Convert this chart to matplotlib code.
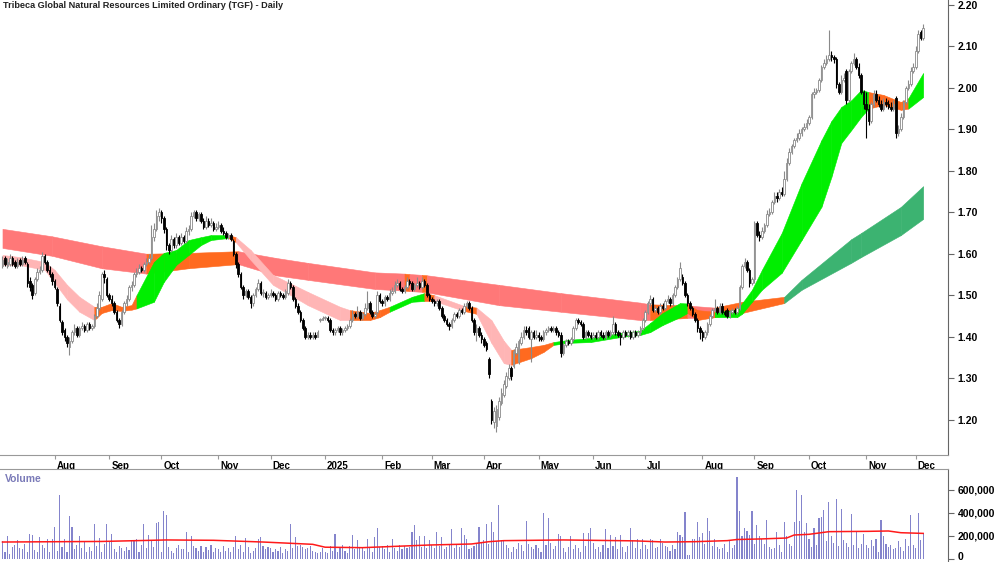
import numpy as np
import pandas as pd
import matplotlib
matplotlib.use('Agg')
import matplotlib.pyplot as plt
import matplotlib.transforms as mtransforms
from matplotlib.ticker import FuncFormatter

plt.rcParams['font.family'] = ['Liberation Sans', 'DejaVu Sans']

title = 'Tribeca Global Natural Resources Limited Ordinary (TGF) - Daily'
first_day = '2024-07-03'

# daily candles, one row per month (Jul 2024 .. Dec 2025)
opens = [
    1.570, 1.590, 1.570, 1.575, 1.590, 1.580, 1.570, 1.585, 1.575, 1.590, 1.575, 1.535, 1.525, 1.505, 1.540, 1.555, 1.560, 1.595, 1.580, 1.560, 1.550,
    1.535, 1.515, 1.475, 1.435, 1.415, 1.400, 1.375, 1.390, 1.410, 1.420, 1.405, 1.420, 1.425, 1.415, 1.430, 1.420, 1.425, 1.450, 1.470, 1.490, 1.550, 1.540,
    1.500, 1.490, 1.480, 1.460, 1.440, 1.430, 1.460, 1.480, 1.490, 1.520, 1.525, 1.550, 1.555, 1.565, 1.560, 1.575, 1.580, 1.590, 1.640, 1.660, 1.690,
    1.700, 1.685, 1.660, 1.620, 1.610, 1.635, 1.620, 1.640, 1.625, 1.640, 1.630, 1.655, 1.660, 1.690, 1.700, 1.685, 1.695, 1.680, 1.665, 1.680, 1.670, 1.675, 1.660,
    1.665, 1.670, 1.655, 1.650, 1.640, 1.645, 1.630, 1.600, 1.575, 1.550, 1.520, 1.500, 1.510, 1.495, 1.480, 1.500, 1.515, 1.530, 1.505, 1.505, 1.495,
    1.500, 1.505, 1.500, 1.490, 1.505, 1.500, 1.495, 1.505, 1.530, 1.520, 1.490, 1.475, 1.460, 1.440, 1.420, 1.400, 1.405, 1.400, 1.405, 1.400, 1.440, 1.440,
    1.445, 1.445, 1.440, 1.415, 1.410, 1.415, 1.420, 1.410, 1.415, 1.420, 1.425, 1.440, 1.455, 1.450, 1.460, 1.445, 1.455, 1.470, 1.480, 1.460, 1.450, 1.460, 1.500,
    1.485, 1.480, 1.495, 1.490, 1.505, 1.510, 1.525, 1.530, 1.515, 1.510, 1.520, 1.535, 1.530, 1.515, 1.525, 1.530, 1.520, 1.535, 1.525, 1.500,
    1.490, 1.485, 1.480, 1.485, 1.470, 1.450, 1.440, 1.430, 1.425, 1.440, 1.455, 1.450, 1.465, 1.460, 1.475, 1.480, 1.470, 1.440, 1.410, 1.420, 1.405,
    1.395, 1.385, 1.345, 1.245, 1.195, 1.185, 1.205, 1.240, 1.260, 1.280, 1.300, 1.325, 1.330, 1.360, 1.340, 1.385, 1.400, 1.415, 1.420, 1.395, 1.410, 1.400,
    1.405, 1.400, 1.395, 1.410, 1.415, 1.420, 1.415, 1.420, 1.410, 1.405, 1.360, 1.380, 1.390, 1.385, 1.395, 1.420, 1.440, 1.435, 1.430, 1.400, 1.410, 1.405,
    1.400, 1.405, 1.400, 1.410, 1.405, 1.400, 1.410, 1.405, 1.410, 1.430, 1.410, 1.405, 1.400, 1.410, 1.405, 1.410, 1.400, 1.410, 1.405, 1.410, 1.420,
    1.440, 1.460, 1.480, 1.490, 1.465, 1.470, 1.460, 1.475, 1.470, 1.485, 1.490, 1.480, 1.500, 1.520, 1.540, 1.545, 1.530, 1.500, 1.480, 1.470, 1.455, 1.440, 1.420,
    1.410, 1.400, 1.410, 1.430, 1.450, 1.465, 1.470, 1.460, 1.475, 1.460, 1.465, 1.450, 1.460, 1.465, 1.460, 1.470, 1.520, 1.570, 1.580, 1.560, 1.530,
    1.540, 1.675, 1.645, 1.640, 1.655, 1.670, 1.695, 1.700, 1.725, 1.740, 1.735, 1.750, 1.745, 1.780, 1.820, 1.845, 1.860, 1.875, 1.880, 1.890, 1.900, 1.905,
    1.915, 1.930, 1.985, 1.990, 1.995, 2.020, 2.050, 2.060, 2.070, 2.080, 2.075, 2.070, 2.010, 1.990, 2.020, 2.040, 1.970, 2.040, 2.060, 2.070, 2.050, 2.030, 1.990,
    1.960, 1.950, 1.920, 1.960, 1.985, 1.970, 1.960, 1.950, 1.965, 1.960, 1.955, 1.950, 1.975, 1.890, 1.900, 1.930, 1.965, 2.000, 2.010, 2.040,
    2.050, 2.090, 2.135, 2.120,
]
highs = [
    1.595, 1.595, 1.590, 1.600, 1.595, 1.585, 1.590, 1.590, 1.595, 1.595, 1.580, 1.545, 1.530, 1.545, 1.565, 1.570, 1.605, 1.600, 1.585, 1.570, 1.555,
    1.540, 1.520, 1.480, 1.440, 1.420, 1.405, 1.400, 1.415, 1.430, 1.425, 1.425, 1.435, 1.430, 1.435, 1.435, 1.430, 1.455, 1.480, 1.510, 1.555, 1.560, 1.545,
    1.505, 1.500, 1.485, 1.465, 1.445, 1.465, 1.485, 1.500, 1.525, 1.535, 1.555, 1.565, 1.575, 1.570, 1.580, 1.590, 1.600, 1.670, 1.675, 1.705, 1.710,
    1.705, 1.690, 1.665, 1.625, 1.645, 1.640, 1.650, 1.645, 1.650, 1.645, 1.665, 1.670, 1.700, 1.705, 1.705, 1.700, 1.700, 1.685, 1.690, 1.685, 1.685, 1.680, 1.675,
    1.680, 1.675, 1.665, 1.655, 1.650, 1.650, 1.635, 1.605, 1.580, 1.555, 1.525, 1.515, 1.515, 1.500, 1.505, 1.520, 1.540, 1.535, 1.515, 1.510, 1.505,
    1.515, 1.510, 1.505, 1.510, 1.510, 1.505, 1.515, 1.540, 1.535, 1.525, 1.495, 1.480, 1.465, 1.445, 1.425, 1.410, 1.410, 1.410, 1.410, 1.415, 1.445, 1.450,
    1.450, 1.450, 1.445, 1.420, 1.420, 1.425, 1.425, 1.420, 1.425, 1.430, 1.445, 1.465, 1.460, 1.475, 1.465, 1.460, 1.480, 1.510, 1.485, 1.465, 1.460, 1.510, 1.505,
    1.490, 1.500, 1.500, 1.515, 1.520, 1.535, 1.540, 1.535, 1.520, 1.525, 1.545, 1.540, 1.535, 1.530, 1.545, 1.535, 1.545, 1.540, 1.530, 1.505,
    1.495, 1.490, 1.490, 1.490, 1.475, 1.455, 1.445, 1.435, 1.445, 1.460, 1.460, 1.470, 1.470, 1.480, 1.485, 1.485, 1.475, 1.445, 1.430, 1.425, 1.410,
    1.400, 1.390, 1.350, 1.250, 1.230, 1.235, 1.255, 1.275, 1.295, 1.315, 1.335, 1.330, 1.370, 1.385, 1.395, 1.410, 1.425, 1.425, 1.425, 1.415, 1.415, 1.415,
    1.410, 1.405, 1.415, 1.420, 1.425, 1.425, 1.425, 1.425, 1.415, 1.410, 1.385, 1.395, 1.395, 1.400, 1.425, 1.445, 1.445, 1.440, 1.435, 1.415, 1.415, 1.410,
    1.410, 1.410, 1.415, 1.415, 1.410, 1.415, 1.415, 1.415, 1.450, 1.435, 1.415, 1.410, 1.415, 1.415, 1.415, 1.415, 1.415, 1.415, 1.415, 1.425, 1.445,
    1.465, 1.485, 1.500, 1.495, 1.475, 1.475, 1.480, 1.480, 1.490, 1.500, 1.495, 1.505, 1.525, 1.545, 1.580, 1.550, 1.535, 1.505, 1.485, 1.475, 1.460, 1.445, 1.425,
    1.415, 1.415, 1.435, 1.455, 1.470, 1.490, 1.475, 1.480, 1.480, 1.465, 1.470, 1.465, 1.470, 1.470, 1.475, 1.525, 1.575, 1.590, 1.585, 1.565, 1.545,
    1.680, 1.680, 1.655, 1.665, 1.675, 1.705, 1.710, 1.730, 1.750, 1.750, 1.755, 1.760, 1.800, 1.830, 1.855, 1.865, 1.880, 1.890, 1.900, 1.905, 1.915, 1.925,
    1.935, 1.990, 2.000, 2.000, 2.025, 2.055, 2.070, 2.080, 2.140, 2.090, 2.080, 2.075, 2.015, 2.030, 2.035, 2.045, 2.045, 2.065, 2.085, 2.075, 2.060, 2.035, 1.995,
    1.990, 1.960, 1.965, 1.995, 1.995, 1.980, 1.970, 1.975, 1.975, 1.970, 1.965, 1.970, 1.980, 1.910, 1.940, 1.970, 2.005, 2.020, 2.050, 2.060,
    2.100, 2.140, 2.140, 2.155,
]
lows = [
    1.565, 1.570, 1.565, 1.570, 1.570, 1.565, 1.565, 1.570, 1.570, 1.575, 1.520, 1.510, 1.490, 1.500, 1.535, 1.550, 1.555, 1.575, 1.555, 1.545, 1.525,
    1.515, 1.475, 1.435, 1.405, 1.390, 1.375, 1.355, 1.385, 1.405, 1.400, 1.400, 1.415, 1.410, 1.410, 1.415, 1.415, 1.420, 1.445, 1.465, 1.485, 1.530, 1.495,
    1.485, 1.475, 1.455, 1.435, 1.420, 1.425, 1.455, 1.475, 1.485, 1.510, 1.520, 1.545, 1.550, 1.555, 1.555, 1.570, 1.575, 1.585, 1.630, 1.655, 1.680,
    1.675, 1.650, 1.610, 1.600, 1.605, 1.615, 1.615, 1.620, 1.620, 1.625, 1.625, 1.645, 1.655, 1.685, 1.680, 1.680, 1.675, 1.660, 1.660, 1.665, 1.665, 1.655, 1.655,
    1.660, 1.650, 1.645, 1.635, 1.635, 1.630, 1.595, 1.565, 1.545, 1.515, 1.490, 1.495, 1.490, 1.470, 1.475, 1.495, 1.510, 1.500, 1.495, 1.490, 1.490,
    1.495, 1.495, 1.485, 1.485, 1.495, 1.490, 1.490, 1.500, 1.515, 1.485, 1.470, 1.455, 1.435, 1.415, 1.395, 1.395, 1.395, 1.395, 1.395, 1.400, 1.435, 1.440,
    1.440, 1.435, 1.410, 1.405, 1.405, 1.410, 1.405, 1.405, 1.410, 1.415, 1.420, 1.435, 1.445, 1.445, 1.440, 1.440, 1.450, 1.465, 1.455, 1.445, 1.445, 1.455, 1.480,
    1.475, 1.475, 1.485, 1.485, 1.500, 1.505, 1.520, 1.510, 1.505, 1.505, 1.515, 1.525, 1.510, 1.510, 1.520, 1.515, 1.515, 1.520, 1.495, 1.485,
    1.480, 1.475, 1.475, 1.465, 1.445, 1.435, 1.425, 1.415, 1.420, 1.435, 1.445, 1.445, 1.455, 1.455, 1.470, 1.465, 1.435, 1.405, 1.390, 1.400, 1.385,
    1.375, 1.365, 1.300, 1.190, 1.180, 1.170, 1.200, 1.235, 1.255, 1.275, 1.295, 1.295, 1.325, 1.355, 1.335, 1.380, 1.395, 1.405, 1.395, 1.340, 1.395, 1.395,
    1.390, 1.390, 1.390, 1.405, 1.410, 1.410, 1.410, 1.405, 1.400, 1.350, 1.355, 1.375, 1.380, 1.380, 1.390, 1.415, 1.430, 1.425, 1.395, 1.395, 1.400, 1.395,
    1.395, 1.395, 1.395, 1.400, 1.395, 1.395, 1.400, 1.400, 1.405, 1.405, 1.400, 1.380, 1.395, 1.400, 1.400, 1.395, 1.395, 1.400, 1.400, 1.405, 1.415,
    1.435, 1.455, 1.475, 1.460, 1.460, 1.455, 1.455, 1.465, 1.465, 1.480, 1.475, 1.475, 1.495, 1.515, 1.535, 1.525, 1.495, 1.475, 1.465, 1.450, 1.435, 1.410, 1.395,
    1.390, 1.395, 1.405, 1.425, 1.445, 1.460, 1.455, 1.455, 1.455, 1.450, 1.445, 1.445, 1.455, 1.455, 1.455, 1.465, 1.515, 1.565, 1.555, 1.520, 1.525,
    1.530, 1.640, 1.630, 1.635, 1.650, 1.665, 1.690, 1.695, 1.720, 1.725, 1.730, 1.740, 1.740, 1.775, 1.815, 1.840, 1.855, 1.870, 1.875, 1.885, 1.895, 1.900,
    1.910, 1.925, 1.975, 1.985, 1.990, 2.015, 2.045, 2.055, 2.065, 2.065, 2.060, 2.000, 1.985, 1.985, 2.015, 1.960, 1.965, 2.035, 2.055, 2.045, 2.025, 1.985, 1.950,
    1.880, 1.910, 1.915, 1.955, 1.965, 1.955, 1.945, 1.945, 1.955, 1.950, 1.945, 1.945, 1.880, 1.885, 1.895, 1.925, 1.960, 1.995, 2.005, 2.035,
    2.045, 2.085, 2.115, 2.115,
]
closes = [
    1.585, 1.575, 1.580, 1.590, 1.575, 1.570, 1.580, 1.575, 1.585, 1.580, 1.530, 1.520, 1.500, 1.540, 1.555, 1.560, 1.595, 1.580, 1.560, 1.550, 1.535,
    1.520, 1.480, 1.440, 1.410, 1.400, 1.385, 1.390, 1.410, 1.420, 1.405, 1.420, 1.425, 1.415, 1.430, 1.420, 1.425, 1.450, 1.470, 1.500, 1.550, 1.545, 1.500,
    1.490, 1.480, 1.460, 1.440, 1.430, 1.460, 1.480, 1.490, 1.520, 1.525, 1.550, 1.555, 1.565, 1.560, 1.575, 1.580, 1.590, 1.640, 1.660, 1.690, 1.700,
    1.685, 1.660, 1.620, 1.610, 1.635, 1.620, 1.640, 1.625, 1.640, 1.630, 1.655, 1.660, 1.690, 1.700, 1.685, 1.695, 1.680, 1.665, 1.680, 1.670, 1.675, 1.660, 1.665,
    1.670, 1.655, 1.650, 1.640, 1.645, 1.635, 1.600, 1.575, 1.550, 1.520, 1.500, 1.510, 1.495, 1.480, 1.500, 1.515, 1.530, 1.505, 1.505, 1.495, 1.500,
    1.505, 1.500, 1.490, 1.505, 1.500, 1.495, 1.510, 1.530, 1.520, 1.490, 1.475, 1.460, 1.440, 1.420, 1.400, 1.405, 1.400, 1.405, 1.400, 1.410, 1.440, 1.445,
    1.445, 1.440, 1.415, 1.410, 1.415, 1.420, 1.410, 1.415, 1.420, 1.425, 1.440, 1.455, 1.450, 1.460, 1.445, 1.455, 1.470, 1.480, 1.460, 1.450, 1.455, 1.500, 1.485,
    1.480, 1.495, 1.490, 1.505, 1.510, 1.525, 1.530, 1.515, 1.510, 1.520, 1.535, 1.530, 1.515, 1.525, 1.530, 1.520, 1.535, 1.525, 1.500, 1.490,
    1.485, 1.480, 1.485, 1.470, 1.450, 1.440, 1.430, 1.425, 1.440, 1.455, 1.450, 1.465, 1.460, 1.475, 1.480, 1.470, 1.440, 1.410, 1.420, 1.405, 1.395,
    1.380, 1.370, 1.310, 1.200, 1.220, 1.225, 1.245, 1.265, 1.285, 1.305, 1.325, 1.305, 1.365, 1.375, 1.390, 1.400, 1.415, 1.410, 1.400, 1.410, 1.400, 1.405,
    1.400, 1.395, 1.410, 1.415, 1.420, 1.415, 1.420, 1.410, 1.405, 1.360, 1.380, 1.390, 1.385, 1.395, 1.420, 1.440, 1.435, 1.430, 1.400, 1.410, 1.405, 1.400,
    1.405, 1.400, 1.410, 1.405, 1.400, 1.410, 1.405, 1.410, 1.430, 1.410, 1.405, 1.400, 1.410, 1.405, 1.410, 1.400, 1.410, 1.405, 1.410, 1.420, 1.440,
    1.460, 1.480, 1.490, 1.465, 1.470, 1.460, 1.475, 1.470, 1.485, 1.490, 1.480, 1.500, 1.520, 1.540, 1.565, 1.530, 1.500, 1.480, 1.470, 1.455, 1.440, 1.420, 1.410,
    1.400, 1.410, 1.430, 1.450, 1.465, 1.470, 1.460, 1.475, 1.460, 1.455, 1.450, 1.460, 1.465, 1.460, 1.470, 1.520, 1.570, 1.580, 1.560, 1.530, 1.540,
    1.675, 1.645, 1.640, 1.655, 1.670, 1.695, 1.700, 1.725, 1.740, 1.735, 1.750, 1.745, 1.780, 1.820, 1.845, 1.860, 1.875, 1.880, 1.890, 1.900, 1.905, 1.915,
    1.930, 1.985, 1.990, 1.995, 2.020, 2.050, 2.060, 2.070, 2.080, 2.075, 2.070, 2.010, 1.990, 2.020, 2.025, 1.970, 2.040, 2.060, 2.070, 2.050, 2.030, 1.990, 1.960,
    1.950, 1.920, 1.960, 1.985, 1.970, 1.960, 1.950, 1.965, 1.960, 1.955, 1.950, 1.960, 1.890, 1.900, 1.930, 1.965, 2.000, 2.010, 2.040, 2.050,
    2.090, 2.130, 2.120, 2.145,
]
# volume in thousands of shares
volume_k = [
    150, 60, 195, 40, 105, 120, 165, 90, 85, 130, 60, 215, 210, 75, 60, 185, 120, 90, 175, 60, 175,
    278, 70, 554, 100, 170, 60, 374, 278, 80, 120, 200, 90, 150, 60, 100, 70, 301, 110, 180, 60, 130, 301,
    150, 217, 80, 60, 110, 90, 65, 100, 75, 160, 150, 175, 60, 120, 299, 90, 204, 150, 100, 307, 322,
    60, 417, 380, 100, 70, 50, 90, 120, 80, 80, 229, 60, 200, 110, 90, 70, 110, 60, 100, 75, 120, 60, 90,
    80, 60, 110, 70, 90, 60, 100, 194, 80, 120, 60, 180, 100, 50, 70, 90, 170, 188, 110, 80, 100,
    90, 60, 80, 70, 100, 50, 80, 70, 299, 90, 188, 110, 120, 100, 80, 90, 110, 70, 60, 50, 55, 90,
    60, 50, 110, 70, 215, 60, 90, 120, 70, 50, 110, 206, 80, 163, 90, 100, 70, 175, 90, 60, 188, 265, 100,
    110, 80, 120, 60, 175, 90, 70, 120, 80, 110, 90, 100, 234, 292, 160, 197, 100, 197, 90, 163,
    120, 90, 234, 110, 188, 80, 100, 130, 255, 90, 120, 100, 269, 210, 170, 80, 90, 110, 130, 272, 140,
    160, 301, 130, 316, 230, 150, 467, 160, 150, 120, 90, 60, 100, 80, 140, 120, 70, 327, 130, 100, 80, 120,
    90, 60, 395, 120, 355, 140, 80, 110, 217, 200, 90, 60, 100, 197, 80, 120, 90, 60, 226, 110, 226, 269,
    140, 80, 100, 60, 120, 258, 90, 204, 110, 193, 80, 207, 100, 60, 110, 263, 160, 90, 170, 80, 175,
    120, 80, 170, 160, 90, 100, 170, 140, 110, 100, 70, 120, 80, 234, 210, 190, 406, 30, 30, 170, 170, 316, 190,
    220, 130, 352, 240, 110, 170, 100, 80, 90, 130, 60, 165, 90, 120, 713, 411, 200, 263, 240, 210, 411,
    130, 292, 200, 170, 130, 336, 100, 80, 90, 234, 120, 60, 322, 200, 130, 110, 322, 598, 330, 556, 229, 307,
    170, 100, 263, 120, 350, 365, 424, 150, 496, 200, 140, 516, 110, 430, 160, 140, 100, 386, 120, 229, 90, 130, 217,
    120, 90, 160, 110, 170, 60, 336, 200, 130, 100, 120, 80, 90, 150, 100, 70, 170, 110, 380, 120,
    90, 394, 160, 220,
]
# volume average line, read at a few bars
vavg_idx = [0, 40, 66, 85, 105, 125, 130, 145, 172, 189, 196, 202, 226, 255, 267, 279, 292, 296, 306, 316, 319, 325, 333, 349, 357, 362, 371]
vavg_k = [145, 150, 163, 160, 145, 125, 100, 96, 119, 128, 148, 157, 163, 155, 145, 148, 157, 167, 172, 180, 206, 212, 235, 238, 241, 226, 220]

# short-term ribbon edges (bar index, upper, lower) and colour of the stretch that follows
short_idx = [0, 7, 17, 21, 26, 31, 37, 40, 44, 48, 52, 54, 61, 65, 70, 75, 80, 84, 91, 94,
             100, 109, 123, 136, 140, 148, 152, 156, 165, 170, 174, 186, 191, 197, 202, 205, 213, 218, 222, 228,
             237, 250, 257, 261, 266, 273, 276, 280, 287, 296, 298, 302, 306, 314, 322, 330, 334, 338, 342, 346,
             349, 355, 362, 365, 371]
short_hi = [1.597, 1.592, 1.580, 1.561, 1.525, 1.496, 1.472, 1.472, 1.481, 1.472, 1.476, 1.500, 1.580, 1.602, 1.609, 1.633, 1.640, 1.645, 1.645, 1.640,
            1.609, 1.549, 1.508, 1.472, 1.464, 1.457, 1.464, 1.472, 1.496, 1.505, 1.500, 1.474, 1.470, 1.440, 1.390, 1.368, 1.375, 1.380, 1.387, 1.392,
            1.397, 1.410, 1.414, 1.433, 1.457, 1.481, 1.480, 1.464, 1.460, 1.464, 1.480, 1.513, 1.561, 1.650, 1.770, 1.874, 1.920, 1.954, 1.970, 1.995,
            1.990, 1.983, 1.966, 1.975, 2.036]
short_lo = [1.573, 1.573, 1.561, 1.530, 1.490, 1.460, 1.440, 1.457, 1.464, 1.462, 1.465, 1.468, 1.484, 1.532, 1.573, 1.597, 1.621, 1.633, 1.638, 1.628,
            1.585, 1.525, 1.476, 1.440, 1.440, 1.440, 1.447, 1.460, 1.484, 1.486, 1.486, 1.462, 1.455, 1.385, 1.336, 1.332, 1.348, 1.363, 1.380, 1.385,
            1.387, 1.400, 1.404, 1.411, 1.428, 1.447, 1.457, 1.440, 1.447, 1.447, 1.455, 1.484, 1.513, 1.554, 1.633, 1.713, 1.785, 1.867, 1.898, 1.930,
            1.950, 1.959, 1.947, 1.950, 1.978]
short_col = 'ppppppoooo' 'oggggggg' 'op' 'ppppooogg' 'o' 'popppooogg' 'ggggggoogg' 'gggggggggg' 'ooogg'

# long-term ribbon
long_idx = [0, 20, 40, 58, 75, 95, 110, 123, 150, 162, 164, 169, 171, 200, 225, 257, 261, 276, 287, 298, 315, 322, 342, 346, 362, 371]
long_hi = [1.660, 1.642, 1.618, 1.600, 1.602, 1.606, 1.590, 1.578, 1.555, 1.552, 1.551, 1.549, 1.548, 1.525, 1.505, 1.482, 1.478, 1.475, 1.470, 1.484,
           1.496, 1.537, 1.635, 1.650, 1.713, 1.763]
long_lo = [1.614, 1.595, 1.565, 1.552, 1.565, 1.575, 1.548, 1.537, 1.515, 1.511, 1.510, 1.508, 1.507, 1.476, 1.460, 1.440, 1.440, 1.445, 1.447, 1.457,
           1.481, 1.513, 1.578, 1.592, 1.645, 1.684]
long_col = 'rrroorrrro' 'rorrrroroo' 'dddddd'

colours = {'p': '#ffb5b5', 'g': '#00ee00', 'o': '#ff6a1f', 'r': '#ff7878', 'd': '#3cb371'}

o = np.array(opens)
h = np.array(highs)
l = np.array(lows)
c = np.array(closes)
n = len(c)
x = np.arange(n)
dates = pd.bdate_range(first_day, periods=n)

fig = plt.figure(figsize=(10, 5.62), dpi=100)
ax = fig.add_axes([0, 1 - 455 / 562, 0.948, 455 / 562])
axv = fig.add_axes([0, 0, 0.948, 93 / 562])


def draw_ribbon(axis, idx, hi, lo, col):
    for k in range(len(idx) - 1):
        fc = colours[col[k]]
        axis.fill_between(idx[k:k + 2], hi[k:k + 2], lo[k:k + 2], color=fc, ec=fc, lw=0.4, zorder=2)


draw_ribbon(ax, long_idx, long_hi, long_lo, long_col)
draw_ribbon(ax, short_idx, short_hi, short_lo, short_col)

# candles
up = c >= o
body_lo = np.minimum(o, c)
body_h = np.maximum(np.abs(c - o), 0.002)
ax.vlines(x[up], l[up], h[up], color='#8a8a8a', lw=0.8, zorder=3)
ax.vlines(x[~up], l[~up], h[~up], color='black', lw=0.8, zorder=3)
ax.bar(x[up], body_h[up], bottom=body_lo[up], width=0.62, color='white', edgecolor='#8a8a8a', lw=0.6, zorder=4)
ax.bar(x[~up], body_h[~up], bottom=body_lo[~up], width=0.62, color='black', edgecolor='black', lw=0.6, zorder=4)

ax.set_xlim(-1, 381)
ax.set_ylim(1.1145, 2.212)
ax.yaxis.tick_right()
ax.set_yticks(np.arange(1.2, 2.21, 0.1))
ax.yaxis.set_major_formatter(FuncFormatter(lambda v, p: f'{v:.2f}'))
for side in ['left', 'top']:
    ax.spines[side].set_visible(False)
ax.spines['right'].set_color('#666666')
ax.spines['bottom'].set_color('#999999')
ax.tick_params(axis='y', length=4, color='#666666', pad=3, labelsize=7.5)
for lab in ax.get_yticklabels():
    lab.set_fontweight('bold')

# month ticks
month_pos = [i for i in range(1, n) if dates[i].month != dates[i - 1].month]
month_lab = [str(dates[i].year) if dates[i].month == 1 else dates[i].strftime('%b') for i in month_pos]
ax.set_xticks(month_pos)
ax.set_xticklabels(month_lab, ha='left', fontweight='bold', fontsize=7)
ax.tick_params(axis='x', length=3, color='#999999', pad=1)
shift = mtransforms.ScaledTranslation(2 / 100, 0, fig.dpi_scale_trans)
for lab in ax.get_xticklabels():
    lab.set_transform(lab.get_transform() + shift)

ax.text(0.003, 0.997, title, transform=ax.transAxes, va='top', ha='left',
        fontsize=6.6, fontweight='bold', color='#222222')

# volume panel
vol = np.array(volume_k) * 1000
axv.bar(x, vol, width=0.45, color='#8484cc', zorder=2)
axv.plot(vavg_idx, np.array(vavg_k) * 1000, color='#ff1a1a', lw=1.1, zorder=3)
axv.set_xlim(-1, 381)
axv.set_ylim(-28700, 780000)
axv.set_xticks([])
axv.yaxis.tick_right()
axv.set_yticks([0, 200000, 400000, 600000])
axv.yaxis.set_major_formatter(FuncFormatter(lambda v, p: f'{int(v):,}'))
axv.tick_params(axis='y', length=4, color='#666666', pad=3, labelsize=7.5)
for lab in axv.get_yticklabels():
    lab.set_fontweight('bold')
# the zero label sits at the very bottom edge, lift it a little so it stays inside
zero_lab = axv.get_yticklabels()[0]
zero_lab.set_transform(zero_lab.get_transform() + mtransforms.ScaledTranslation(0, 3 / 100, fig.dpi_scale_trans))
for side in ['left', 'bottom']:
    axv.spines[side].set_visible(False)
axv.spines['right'].set_color('#666666')
axv.spines['top'].set_color('#999999')
axv.text(0.005, 0.95, 'Volume', transform=axv.transAxes, va='top', ha='left',
         fontsize=7.5, fontweight='bold', color='#7a7ab8')

fig.savefig('out.png', dpi=100)
